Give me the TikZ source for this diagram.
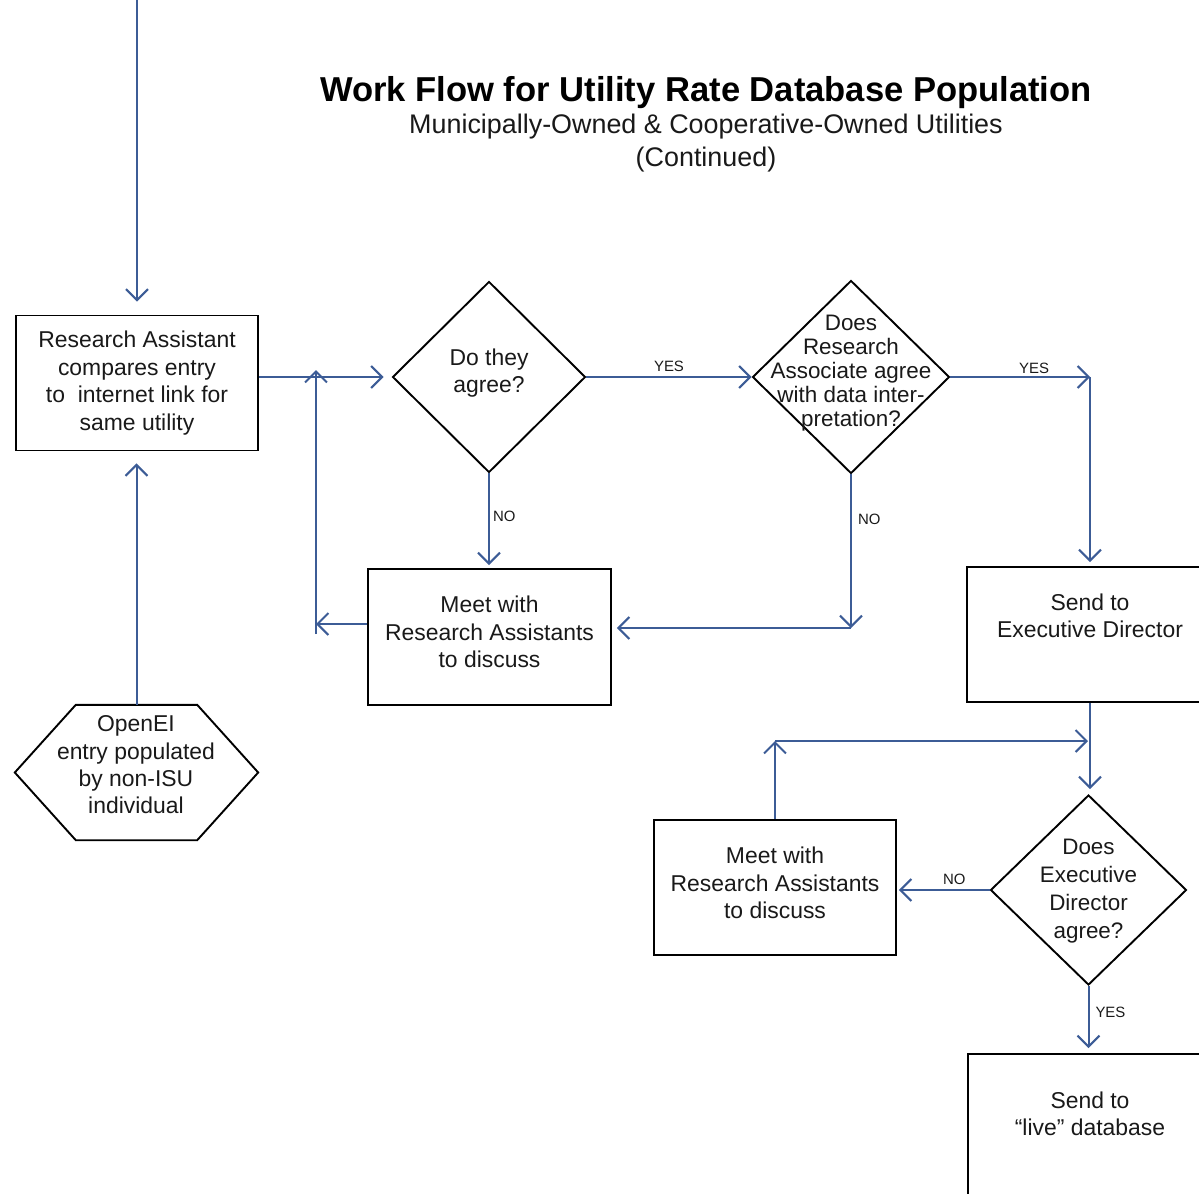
\documentclass[tikz,border=0pt]{standalone}
\usepackage{fontspec}
\setmainfont{Liberation Sans}
\usetikzlibrary{arrows.meta,shapes.geometric,calc}
\definecolor{flowblue}{RGB}{60,92,150}
\definecolor{inkgray}{RGB}{25,25,25}
\tikzset{
  box/.style={draw=black, line width=1.9bp, minimum width=242bp, minimum height=135bp,
    inner sep=0pt, align=center, text=inkgray, font=\fontsize{23}{27.5}\selectfont},
  dia/.style={diamond, draw=black, line width=1.9bp, inner sep=0pt},
  txt/.style={align=center, inner sep=0pt, text=inkgray, font=\fontsize{23}{27.5}\selectfont},
  conn/.style={draw=flowblue, line width=2bp, -{Straight Barb[length=11bp,width=22bp]}},
  lab/.style={inner sep=0pt, text=inkgray, font=\fontsize{15}{15}\selectfont},
}
\begin{document}
\begin{tikzpicture}[x=1bp,y=-1bp]
\clip (0,0) rectangle (1199,1194);

% headings
\node[anchor=base, font=\fontsize{34.7}{40}\selectfont\bfseries] (title) at (706,101)
  {Work Flow for Utility Rate Database Population};
\node[anchor=base, text=inkgray, font=\fontsize{27}{30}\selectfont] (sub) at (706,133)
  {Municipally-Owned \& Cooperative-Owned Utilities};
\node[anchor=base, text=inkgray, font=\fontsize{27}{30}\selectfont] (cont) at (706,166)
  {(Continued)};

% process boxes
\node[box] (box1) at (137,383) {Research Assistant\\compares entry\\to\ \ internet link for\\same utility};
\node[box, minimum width=243bp, minimum height=136bp] (meet1) at (489.5,637) {};
\node[txt] (meet1t) at (489.5,632) {Meet with\\Research Assistants\\to discuss};
\node[box, minimum width=246bp] (send1) at (1090,634.5) {};
\node[txt] (send1t) at (1090,616) {Send to\\Executive Director};
\node[box] (meet2) at (775,887.5) {};
\node[txt] (meet2t) at (775,883) {Meet with\\Research Assistants\\to discuss};
\node[box, minimum width=244bp, minimum height=170bp, anchor=north] (live) at (1090,1053) {};
\node[txt] (livet) at (1090,1114) {Send to\\“live” database};

% input hexagon
\node[minimum width=243bp, minimum height=135bp, inner sep=0pt] (hex) at (136.5,772.5) {};
\draw[black, line width=1.9bp]
  ([xshift=61bp]hex.north west) -- ([xshift=-61bp]hex.north east) -- (hex.east)
  -- ([xshift=-61bp]hex.south east) -- ([xshift=61bp]hex.south west) -- (hex.west) -- cycle;
\node[txt] (hext) at (136,765) {OpenEI\\entry populated\\by non-ISU\\individual};

% decisions
\node[dia, minimum width=193bp, minimum height=191bp] (d1) at (489,377) {};
\node[txt, font=\fontsize{23}{27}\selectfont] (d1t) at (489,373) {Do they\\agree?};
\node[dia, minimum width=197bp, minimum height=193bp] (d2) at (851,377) {};
\node[txt, font=\fontsize{22.5}{24}\selectfont] (d2t) at (851,373)
  {Does\\Research\\Associate agree\\with data inter-\\pretation?};
\node[dia, minimum width=196bp, minimum height=190bp] (d3) at (1088.5,890) {};
\node[txt, font=\fontsize{22.5}{28}\selectfont] (d3t) at (1088.5,891)
  {Does\\Executive\\Director\\agree?};

% helper points
\coordinate (topin) at (137,0);
\coordinate (loopend) at (316,624);
\coordinate (looptop) at (316,370);
\coordinate (yesturn) at (1090,377);
\coordinate (noturn) at (851,628);
\coordinate (backup) at (775,741);

% connectors
\draw[conn, shorten >=13bp] (topin) -- (box1.north);
\draw[conn, shorten >=12bp] (hex.north) -- (hex.north |- box1.south);
\draw[conn, shorten >=8bp] (box1.east |- d1.west) -- (d1.west);
\draw[conn] (meet1.west |- loopend) -- (loopend);
\draw[conn] ([yshift=-10bp]loopend) -- (looptop);
\draw[conn] (d1.east) -- node[lab, above=4bp] (yes1) {YES} (d2.west);
\draw[conn] (d2.east) -- node[lab, above=2bp, pos=0.6] (yes2) {YES} (yesturn);
\draw[conn, shorten >=4bp] (yesturn) -- (send1.north);
\draw[conn, shorten >=3bp] (d1.south) -- node[lab, right=3bp, pos=0.45] (no1) {NO} (d1.south |- meet1.north);
\draw[conn] (d2.south) -- node[lab, right=6bp, pos=0.29] (no2) {NO} (noturn);
\draw[conn, shorten >=5bp] (noturn) -- (meet1.east |- noturn);
\draw[conn, shorten >=5bp] (send1.south) -- (send1.south |- d3.north);
\draw[conn, shorten >=2bp] (d3.west) -- node[lab, above=4bp, pos=0.38] (no3) {NO} (meet2.east |- d3.west);
\draw[conn] (meet2.north) -- (backup);
\draw[conn, shorten >=2bp] (backup) -- (backup -| send1.south);
\draw[conn, shorten >=5bp] (d3.south) -- node[lab, right=6bp, pos=0.4] (yes3) {YES} (d3.south |- live.north);
\end{tikzpicture}
\end{document}
